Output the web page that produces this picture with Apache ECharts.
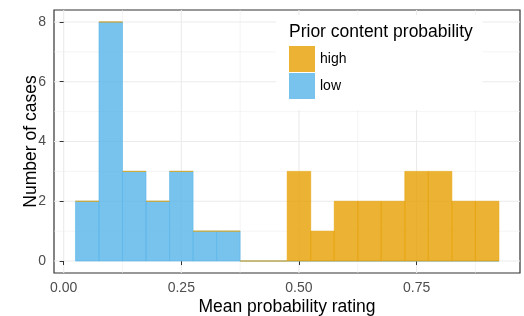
<!DOCTYPE html>
<html>
<head>
<meta charset="utf-8">
<script src="https://cdn.jsdelivr.net/npm/echarts@6/dist/echarts.min.js"></script>
<style>
  html, body { margin: 0; padding: 0; background: #fff; }
  #chart { width: 524px; height: 316px; }
</style>
</head>
<body>
<div id="chart"></div>
<script>
// histogram bins (width 0.05), stacked: low at the bottom, high on top
const binCenters = [0.05, 0.10, 0.15, 0.20, 0.25, 0.30, 0.35, 0.40, 0.45,
                    0.50, 0.55, 0.60, 0.65, 0.70, 0.75, 0.80, 0.85, 0.90];
const lowCounts  = [2, 8, 3, 2, 3, 1, 1, 0, 0, 0, 0, 0, 0, 0, 0, 0, 0, 0];
const highCounts = [0, 0, 0, 0, 0, 0, 0, 0, 0, 3, 1, 2, 2, 2, 3, 3, 2, 2];
const binWidth = 0.05;

const xTicks = [0, 0.25, 0.5, 0.75];
const xMinor = [0.125, 0.375, 0.625, 0.875];
const yTicks = [0, 2, 4, 6, 8];
const yMinor = [1, 3, 5, 7];

const lowColor = 'rgba(86,180,233,0.8)';
const highColor = 'rgba(230,159,0,0.8)';
const font = '"Liberation Sans", Arial, sans-serif';

// [x0, x1, base, top]
const lowRects = binCenters.map((c, i) => [c - binWidth / 2, c + binWidth / 2, 0, lowCounts[i]]);
const highRects = binCenters.map((c, i) => [c - binWidth / 2, c + binWidth / 2, lowCounts[i], lowCounts[i] + highCounts[i]]);

// grid lines: [x, y, vertical, major]
const gridData = []
  .concat(xTicks.map(v => [v, 0, 1, 1]))
  .concat(xMinor.map(v => [v, 0, 1, 0]))
  .concat(yTicks.map(v => [0, v, 0, 1]))
  .concat(yMinor.map(v => [0, v, 0, 0]));

function barRender(color) {
  return function (params, api) {
    const p0 = api.coord([api.value(0), api.value(3)]);
    const p1 = api.coord([api.value(1), api.value(2)]);
    return {
      type: 'rect',
      shape: { x: p0[0], y: p0[1], width: p1[0] - p0[0], height: p1[1] - p0[1] },
      style: { fill: color, stroke: color, lineWidth: 0.7 }
    };
  };
}

function gridRender(params, api) {
  const cs = params.coordSys;
  const vertical = api.value(2) === 1;
  const major = api.value(3) === 1;
  let shape;
  if (vertical) {
    const x = api.coord([api.value(0), 0])[0];
    shape = { x1: x, y1: cs.y, x2: x, y2: cs.y + cs.height };
  } else {
    const y = api.coord([0, api.value(1)])[1];
    shape = { x1: cs.x, y1: y, x2: cs.x + cs.width, y2: y };
  }
  return { type: 'line', shape: shape, style: { stroke: '#EBEBEB', lineWidth: major ? 1.1 : 0.55 } };
}

const chart = echarts.init(document.getElementById('chart'));
chart.setOption({
  animation: false,
  backgroundColor: '#fff',
  textStyle: { fontFamily: font },
  grid: {
    left: 54, top: 10, width: 466, height: 263,
    outerBoundsMode: 'none', containLabel: false,
    show: true, backgroundColor: '#fff', borderColor: '#333', borderWidth: 1.2
  },
  title: {
    text: 'Prior content probability',
    left: 289, top: 23, padding: 0,
    textStyle: { fontFamily: font, fontSize: 17.5, fontWeight: 'normal', color: '#000' }
  },
  legend: {
    data: ['high', 'low'],
    orient: 'vertical',
    left: 276, top: 15,
    padding: [31, 136, 11, 13],
    backgroundColor: '#fff',
    itemWidth: 26, itemHeight: 26, itemGap: 1,
    icon: 'rect',
    textStyle: { fontFamily: font, fontSize: 14, color: '#000' }
  },
  xAxis: {
    type: 'value',
    min: -0.0206, max: 0.9698,
    name: 'Mean probability rating',
    nameLocation: 'middle', nameGap: 25, nameMoveOverlap: false,
    nameTextStyle: { fontFamily: font, fontSize: 17.5, color: '#000' },
    axisLine: { show: false },
    splitLine: { show: false },
    axisTick: { show: true, length: 4, lineStyle: { color: '#333', width: 1 }, customValues: xTicks },
    axisLabel: {
      customValues: xTicks, margin: 8,
      formatter: v => v.toFixed(2),
      color: '#4D4D4D', fontSize: 14, fontFamily: font
    }
  },
  yAxis: {
    type: 'value',
    min: -0.4, max: 8.4,
    name: 'Number of cases',
    nameLocation: 'middle', nameGap: 14, nameRotate: 90, nameMoveOverlap: false,
    nameTextStyle: { fontFamily: font, fontSize: 17.5, color: '#000' },
    axisLine: { show: false },
    splitLine: { show: false },
    axisTick: { show: true, length: 4, lineStyle: { color: '#333', width: 1 }, customValues: yTicks },
    axisLabel: {
      customValues: yTicks, margin: 8,
      color: '#4D4D4D', fontSize: 14, fontFamily: font
    }
  },
  series: [
    {
      name: 'grid', type: 'custom', z: 0, silent: true,
      renderItem: gridRender, data: gridData,
      encode: { x: 0, y: 1 }
    },
    {
      name: 'low', type: 'custom', z: 2,
      itemStyle: { color: lowColor },
      renderItem: barRender(lowColor), data: lowRects,
      encode: { x: [0, 1], y: [2, 3] }
    },
    {
      name: 'high', type: 'custom', z: 3,
      itemStyle: { color: highColor },
      renderItem: barRender(highColor), data: highRects,
      encode: { x: [0, 1], y: [2, 3] }
    }
  ]
});
</script>
</body>
</html>
